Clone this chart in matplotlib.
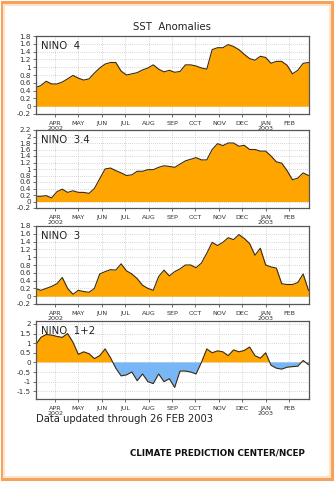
import numpy as np
import matplotlib
matplotlib.use("Agg")
import matplotlib.pyplot as plt
import matplotlib.dates as mdates
from matplotlib.patches import Rectangle

# weekly dates, 6 Mar 2002 .. 26 Feb 2003
dates = np.arange(np.datetime64("2002-03-06"), np.datetime64("2003-02-27"), np.timedelta64(7, "D"))

nino4 = [0.48, 0.53, 0.64, 0.57, 0.57, 0.62, 0.70, 0.79, 0.72, 0.67, 0.70, 0.85, 0.98,
         1.08, 1.12, 1.12, 0.90, 0.80, 0.83, 0.86, 0.93, 0.98, 1.06, 0.95, 0.88,
         0.92, 0.87, 0.89, 1.06, 1.06, 1.03, 0.98, 0.95, 1.45, 1.50, 1.50, 1.58, 1.53,
         1.45, 1.33, 1.22, 1.18, 1.28, 1.25, 1.10, 1.15, 1.15, 1.05, 0.83, 0.92, 1.10, 1.12]
nino34 = [0.16, 0.16, 0.18, 0.11, 0.30, 0.38, 0.28, 0.33, 0.28, 0.28, 0.25, 0.40, 0.70,
          1.00, 1.03, 0.95, 0.88, 0.80, 0.82, 0.93, 0.93, 0.98, 0.98, 1.05, 1.10,
          1.08, 1.05, 1.15, 1.25, 1.30, 1.35, 1.28, 1.28, 1.60, 1.78, 1.72, 1.80, 1.80,
          1.70, 1.73, 1.60, 1.60, 1.55, 1.55, 1.40, 1.22, 1.18, 0.95, 0.67, 0.72, 0.88, 0.80]
nino3 = [0.20, 0.15, 0.20, 0.25, 0.32, 0.48, 0.20, 0.05, 0.15, 0.12, 0.10, 0.20, 0.57,
         0.63, 0.68, 0.67, 0.83, 0.65, 0.57, 0.45, 0.28, 0.20, 0.15, 0.50, 0.67,
         0.52, 0.63, 0.70, 0.80, 0.80, 0.73, 0.85, 1.10, 1.38, 1.30, 1.38, 1.50, 1.45,
         1.58, 1.48, 1.35, 1.05, 1.23, 0.80, 0.75, 0.72, 0.32, 0.30, 0.30, 0.35, 0.57, 0.15]
nino12 = [0.90, 1.30, 1.45, 1.42, 1.35, 1.30, 1.50, 1.05, 0.42, 0.55, 0.45, 0.20, 0.35,
          0.70, 0.25, -0.30, -0.70, -0.65, -0.50, -0.95, -0.60, -1.00, -1.10, -0.60,
          -1.00, -0.85, -1.30, -0.45, -0.45, -0.50, -0.60, 0.00, 0.70, 0.50, 0.60, 0.55,
          0.35, 0.65, 0.55, 0.62, 0.80, 0.35, 0.22, 0.50, -0.15, -0.30, -0.35, -0.25,
          -0.22, -0.20, 0.10, -0.12]

names = ["NINO  4", "NINO  3.4", "NINO  3", "NINO  1+2"]
series = [nino4, nino34, nino3, nino12]
ylims = [(-0.2, 1.8), (-0.2, 2.2), (-0.2, 1.8), (-1.9, 2.15)]
yticks = [np.arange(-0.2, 1.81, 0.2), np.arange(-0.2, 2.21, 0.2),
          np.arange(-0.2, 1.81, 0.2), np.arange(-1.5, 2.01, 0.5)]
month_labels = ["APR\n2002", "MAY", "JUN", "JUL", "AUG", "SEP", "OCT", "NOV", "DEC", "JAN\n2003", "FEB"]
month_starts = np.arange(np.datetime64("2002-04"), np.datetime64("2003-03"), np.timedelta64(1, "M")).astype("datetime64[D]")

W, H = 336, 482
fig = plt.figure(figsize=(W / 100, H / 100), dpi=100)
fig.patch.set_facecolor("white")

# orange frame
fig.patches.append(Rectangle((1.5 / W, 3 / H), 330.5 / W, 477 / H, transform=fig.transFigure,
                             fill=False, edgecolor="#f7a25a", linewidth=2.2))
fig.patches.append(Rectangle((4 / W, 5.5 / H), 325.5 / W, 472 / H, transform=fig.transFigure,
                             fill=False, edgecolor="#fde3cc", linewidth=1.5))

panels = [(36, 114), (130, 208), (226, 304), (321, 399)]
left, right = 35.5, 308.5
orange = "#ffa500"
blue = "#78b6f5"


def fmt(v):
    if abs(v) < 1e-9:
        return "0"
    s = "%.1f" % v
    if s.endswith(".0"):
        s = s[:-2]
    return s


x_num = mdates.date2num(dates.astype("datetime64[ms]").astype(object))
xm_num = mdates.date2num(month_starts.astype("datetime64[ms]").astype(object))

for name, vals, yl, yt, (top, bot) in zip(names, series, ylims, yticks, panels):
    ax = fig.add_axes([left / W, 1 - bot / H, (right - left) / W, (bot - top) / H])
    v = np.array(vals)
    ax.fill_between(x_num, 0, v, where=v >= 0, interpolate=True, color=orange, linewidth=0, zorder=2)
    ax.fill_between(x_num, 0, v, where=v <= 0, interpolate=True, color=blue, linewidth=0, zorder=2)
    ax.plot(x_num, v, color="#3a2a10", linewidth=0.8, zorder=3)
    ax.set_xlim(x_num[0], x_num[-1])
    ax.set_ylim(*yl)
    ax.set_yticks(yt)
    ax.set_yticklabels([fmt(t) for t in yt], fontsize=5.2)
    ax.set_xticks(xm_num)
    ax.set_xticklabels(month_labels, fontsize=4.6, linespacing=0.9)
    ax.tick_params(axis="both", length=2, width=0.5, pad=1.5, colors="#333333")
    ax.tick_params(axis="x", pad=3)
    ax.set_axisbelow(True)
    ax.grid(True, color="#b0b0b0", linestyle=(0, (1, 2)), linewidth=0.5, zorder=0.5)
    for sp in ax.spines.values():
        sp.set_color("#555555")
        sp.set_linewidth(0.9)
        sp.set_zorder(4)
    ax.text(0.02, 0.93, name, transform=ax.transAxes, fontsize=7.3, va="top", ha="left",
            color="#222222", zorder=5)

fig.text(172 / W, 1 - 27 / H, "SST  Anomalies", fontsize=7.3, ha="center", va="center", color="#222222")
fig.text(36 / W, 1 - 419 / H, "Data updated through 26 FEB 2003", fontsize=7.2, ha="left",
         va="center", color="#222222")
fig.text(305 / W, 1 - 453 / H, "CLIMATE PREDICTION CENTER/NCEP", fontsize=6.3, ha="right",
         va="center", color="#111111", fontweight="bold")

fig.savefig("out.png", dpi=100)
